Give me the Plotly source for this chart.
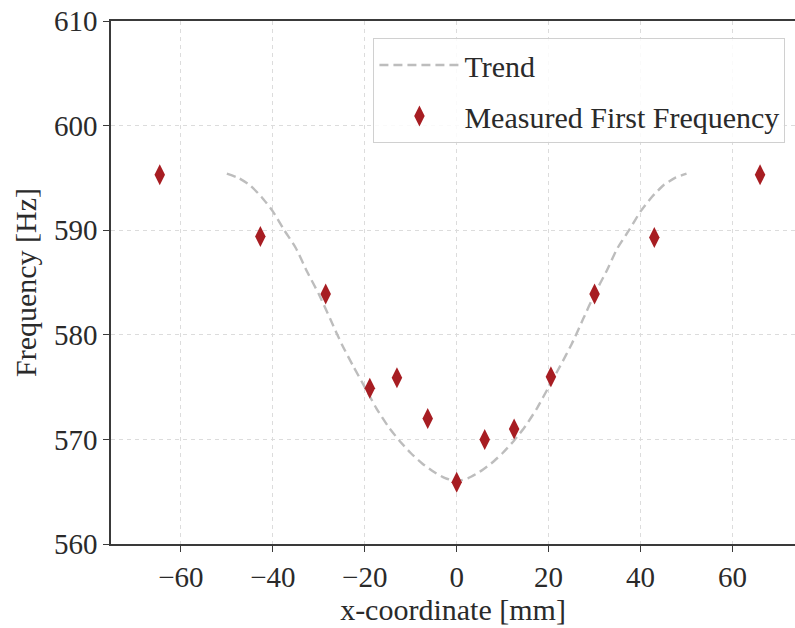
import plotly.graph_objects as go

# Measured first natural frequency along the beam
x_measured = [-64.6, -42.7, -28.5, -18.9, -13.0, -6.3, 0.0, 6.1, 12.5, 20.5, 30.0, 43.0, 66.0]
f_measured = [595.3, 589.4, 583.9, 574.9, 575.9, 572.0, 565.9, 570.0, 571.0, 576.0, 583.9, 589.3, 595.3]

# Trend curve samples
x_trend = [-50, -47.5, -45, -42.5, -40, -37.5, -35, -32.5, -30, -27.5, -25, -22.5, -20,
           -17.5, -15, -12.5, -10, -7.5, -5, -2.5, 0,
           2.5, 5, 7.5, 10, 12.5, 15, 17.5, 20, 22.5, 25, 27.5, 30,
           32.5, 35, 37.5, 40, 42.5, 45, 47.5, 50]
f_trend = [595.4, 595.0, 594.3, 593.2, 591.8, 590.0, 588.3, 586.0, 583.9, 581.5, 579.1, 577.0, 575.0,
           573.0, 571.3, 569.9, 568.7, 567.7, 566.9, 566.3, 566.0,
           566.3, 566.9, 567.7, 568.7, 569.9, 571.3, 573.0, 575.0, 577.0, 579.1, 581.5, 583.9,
           586.0, 588.3, 590.0, 591.8, 593.2, 594.3, 595.0, 595.4]

x_ticks = [-60, -40, -20, 0, 20, 40, 60]
x_tick_text = ["\u221260", "\u221240", "\u221220", "0", "20", "40", "60"]
y_ticks = [560, 570, 580, 590, 600, 610]

FONT = "Liberation Serif"
TEXT = "#2a2a2a"

fig = go.Figure()
fig.add_trace(go.Scatter(
    x=x_trend, y=f_trend, mode="lines", name="Trend",
    line=dict(color="#bdbdbd", width=2.4, dash="9px,5px", shape="spline", smoothing=0.6),
    legendgroup="a",
))
fig.add_trace(go.Scatter(
    x=x_measured, y=f_measured, mode="markers", name="Measured First Frequency",
    marker=dict(symbol="diamond-tall", size=15, color="#a71d22"),
    legendgroup="b",
))

axis_common = dict(
    showline=True, linecolor="#3a3a3a", linewidth=1.6,
    ticks="outside", ticklen=6, tickwidth=1.3, tickcolor="#3a3a3a",
    showgrid=True, gridcolor="#dcdcdc", gridwidth=1, griddash="4px,4px",
    zeroline=False,
    tickfont=dict(family=FONT, size=29, color=TEXT),
)

fig.update_layout(
    width=795, height=628,
    margin=dict(l=111, r=0, t=21, b=84),
    plot_bgcolor="white", paper_bgcolor="white",
    font=dict(family=FONT, color=TEXT),
    xaxis=dict(
        range=[-75.2, 73.6], tickvals=x_ticks, ticktext=x_tick_text,
        mirror=True,
        title=dict(text="x-coordinate [mm]", font=dict(family=FONT, size=30, color=TEXT), standoff=4),
        **axis_common,
    ),
    yaxis=dict(
        range=[560, 610], tickvals=y_ticks,
        title=dict(text="Frequency [Hz]", font=dict(family=FONT, size=30, color=TEXT), standoff=8),
        **axis_common,
    ),
    legend=dict(
        x=0.986, y=0.9675, xanchor="right", yanchor="top",
        bgcolor="rgba(255,255,255,0.85)", bordercolor="#d0d0d0", borderwidth=1,
        font=dict(family=FONT, size=30, color=TEXT),
        tracegroupgap=9, traceorder="grouped", itemwidth=80,
    ),
    showlegend=True,
)

fig.write_html("out.html")
